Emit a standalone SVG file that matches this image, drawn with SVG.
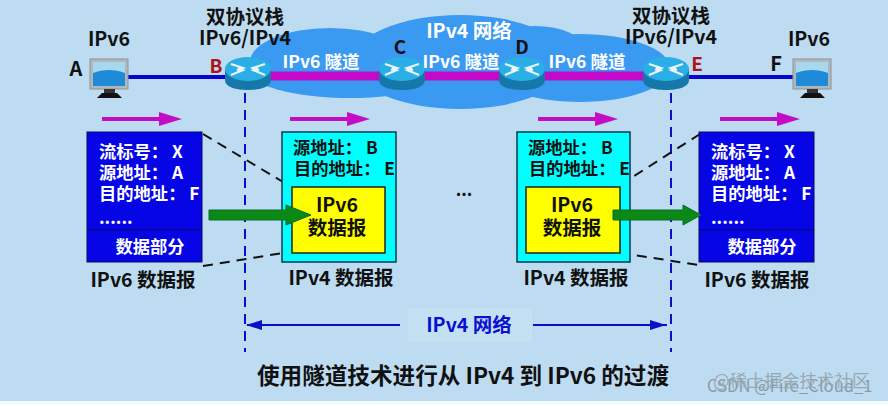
<svg xmlns="http://www.w3.org/2000/svg" width="888" height="405" viewBox="0 0 888 405">
<style>
text{font-family:"Noto Sans CJK SC","Noto Sans",sans-serif;font-weight:700;font-size:17px;fill:#111}
.m{text-anchor:middle}
.w{fill:#fff}
.r{fill:#b01218}
.pk{fill:#c40cc4}
.dash{stroke:#111;stroke-width:2;stroke-dasharray:10 7;fill:none}
.v{stroke:#0a10c8;stroke-width:2;stroke-dasharray:10 7;fill:none}
.blue{fill:#0505e6;stroke:#0a0a60;stroke-width:1}
.cy{fill:#0ff;stroke:#063a50;stroke-width:1.5}
.ye{fill:#ff0;stroke:#222;stroke-width:1.5}
.gr{fill:#0a8a14;stroke:#0a6a30;stroke-width:1}
.t1{font-size:19.5px}
.t2{font-size:17.3px}
.t3{font-size:19.5px}
</style>
<defs>
<g id="router">
<path d="M-23 0V11C-23 18-12 21 0 21S23 18 23 11V0Z" fill="#1678a8"/>
<ellipse cx="0" cy="0" rx="23" ry="12" fill="#2aaee6"/>
<path d="M-17-5L-5-1-11 1M17-5L5-1 11 1M-17 6L-5 1-10-2M17 6L5 1 10-2" fill="none" stroke="#e8f4fa" stroke-width="2.2"/>
</g>
<g id="pc">
<rect x="0" y="0" width="38" height="30" fill="#b0b8bc" stroke="#8a9498"/>
<rect x="3" y="3" width="32" height="24" fill="#1e8ad8"/>
<path d="M3 3H35V14C25 10 13 10 3 14Z" fill="#a8d8ee"/>
<rect x="14" y="30" width="11" height="5" fill="#333"/>
<path d="M7 39L12 34H27L32 39Z" fill="#111"/>
</g>
<path id="mag" d="M0-2H57V-7L80 0 57 7V2H0Z" class="pk"/>
</defs>
<rect width="888" height="405" fill="#bddcf2"/>
<rect y="401" width="888" height="4" fill="#f2fbf8"/>
<g id="cloud" fill="#3a9af2">
<ellipse cx="350" cy="68" rx="104" ry="30"/>
<ellipse cx="330" cy="62" rx="80" ry="34"/>
<ellipse cx="460" cy="62" rx="108" ry="47"/>
<ellipse cx="580" cy="68" rx="90" ry="34"/>
<ellipse cx="620" cy="70" rx="46" ry="24"/>
<ellipse cx="535" cy="50" rx="50" ry="24"/>
</g>
<g id="connectors">
<path d="M128 77H228M688 77H793" stroke="#0505d0" stroke-width="4" fill="none"/>
<path d="M270 76H645" stroke="#c20ac8" stroke-width="9" fill="none"/>
<path class="v" d="M245 93V352M671 93V352"/>
<path class="dash" d="M203 134L283 182M203 266L283 253M620 185L700 134M620 253L699 265"/>
<path d="M247 325H400M533 325H667" stroke="#0a10c8" stroke-width="2" fill="none"/>
<path d="M246 325L262 320V330ZM666 325L650 320V330Z" fill="#0a10c8"/>
</g>
<g id="A"><use href="#pc" x="90" y="59"/><text class="m t1" x="109" y="46">IPv6</text><text class="m" x="76" y="76" style="font-size:20px">A</text></g>
<g id="F"><use href="#pc" x="793" y="59"/><text class="m t1" x="809" y="46">IPv6</text><text class="m" x="776" y="71" style="font-size:20px">F</text></g>
<g id="B"><use href="#router" x="248" y="69"/><text class="m r" x="216" y="73" style="font-size:19px">B</text><text class="m t1" x="245" y="24">双协议栈</text><text class="m t1" x="245" y="45">IPv6/IPv4</text></g>
<g id="C"><use href="#router" x="402" y="69"/><text class="m" x="400" y="54" style="font-size:19px">C</text></g>
<g id="D"><use href="#router" x="522" y="69"/><text class="m" x="522" y="54" style="font-size:19px">D</text></g>
<g id="E"><use href="#router" x="666" y="69"/><text class="m r" x="697" y="71" style="font-size:19px">E</text><text class="m t1" x="671" y="23">双协议栈</text><text class="m t1" x="671" y="44">IPv6/IPv4</text></g>
<g id="cloud-labels">
<text class="m w" x="321" y="68" style="font-size:17.5px">IPv6 隧道</text>
<text class="m w" x="461" y="68" style="font-size:17.5px">IPv6 隧道</text>
<text class="m w" x="587" y="68" style="font-size:17.5px">IPv6 隧道</text>
<text class="m w" x="469" y="38" style="font-size:19.5px">IPv4 网络</text>
</g>
<g id="flow-arrows">
<use href="#mag" x="102" y="119"/><use href="#mag" x="290" y="119"/><use href="#mag" x="538" y="119"/><use href="#mag" x="720" y="119"/>
</g>
<g id="ipv6-left">
<rect class="blue" x="87" y="132" width="115" height="130"/><path d="M87 230H202" stroke="#0a0a60"/>
<text class="w t2" x="99" y="158">流标号： X</text>
<text class="w t2" x="99" y="179">源地址： A</text>
<text class="w t2" x="99" y="200">目的地址： F</text>
<text class="w t2" x="99" y="224">......</text>
<text class="m w t2" x="150" y="253">数据部分</text>
<text class="m t3" x="143" y="287">IPv6 数据报</text>
</g>
<g id="ipv4-left">
<rect class="cy" x="282" y="132" width="114" height="130"/>
<rect class="ye" x="292" y="187" width="93" height="66"/>
<text class="t2" x="293" y="154">源地址： B</text>
<text class="t2" x="294" y="175">目的地址： E</text>
<text class="m t3" x="337" y="212">IPv6</text>
<text class="m t3" x="337" y="235">数据报</text>
<text class="m t3" x="341" y="285">IPv4 数据报</text>
</g>
<text id="ellipsis" class="m" x="464" y="196" style="font-size:17px">...</text>
<g id="ipv4-right">
<rect class="cy" x="517" y="132" width="113" height="130"/>
<rect class="ye" x="526" y="187" width="94" height="66"/>
<text class="t2" x="528" y="154">源地址： B</text>
<text class="t2" x="529" y="175">目的地址： E</text>
<text class="m t3" x="572" y="212">IPv6</text>
<text class="m t3" x="572" y="235">数据报</text>
<text class="m t3" x="576" y="285">IPv4 数据报</text>
</g>
<g id="ipv6-right">
<rect class="blue" x="699" y="132" width="115" height="130"/><path d="M699 230H814" stroke="#0a0a60"/>
<text class="w t2" x="711" y="158">流标号： X</text>
<text class="w t2" x="711" y="179">源地址： A</text>
<text class="w t2" x="711" y="200">目的地址： F</text>
<text class="w t2" x="711" y="224">......</text>
<text class="m w t2" x="762" y="253">数据部分</text>
<text class="m t3" x="757" y="287">IPv6 数据报</text>
</g>
<g id="green-arrows">
<path class="gr" d="M209 210H286V205L311 215 286 225V220H209Z"/>
<path class="gr" d="M613 210H683V205L701 215 683 225V220H613Z"/>
</g>
<g id="network-span">
<rect x="408" y="308" width="124" height="34" fill="#c4e1f4"/>
<text class="m" x="469" y="332" style="font-size:19.5px;fill:#0a10d0">IPv4 网络</text>
</g>
<text id="caption" class="m" x="463" y="384" style="font-size:22.6px">使用隧道技术进行从 IPv4 到 IPv6 的过渡</text>
<g id="watermark">
<text x="707" y="392" style="font-size:16.6px;font-weight:400;fill:#8a9aa6">CSDN @Fire_Cloud_1</text>
<text x="713" y="387" style="font-size:17.5px;font-weight:400;fill:#9aa8b4">@稀土掘金技术社区</text>
</g>
</svg>
